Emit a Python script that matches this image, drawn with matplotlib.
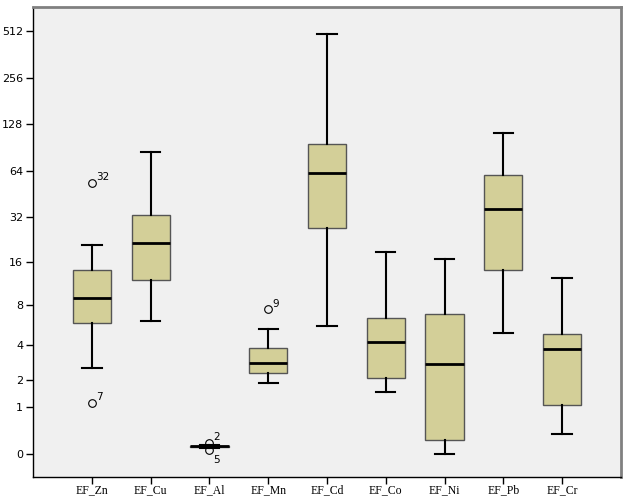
import numpy as np
import matplotlib
matplotlib.use('Agg')
import matplotlib.pyplot as plt

# box statistics (enrichment factors)
labels = ['EF_Zn', 'EF_Cu', 'EF_Al', 'EF_Mn', 'EF_Cd', 'EF_Co', 'EF_Ni', 'EF_Pb', 'EF_Cr']
whislo = [2.55, 6.14, 0.10, 1.85, 5.63, 1.51, 0.0, 4.98, 0.34]
q1     = [5.90, 11.96, 0.115, 2.32, 26.9, 2.05, 0.23, 14.0, 1.05]
med    = [9.03, 21.56, 0.12, 2.81, 62.3, 4.19, 2.77, 36.1, 3.68]
q3     = [14.0, 33.1, 0.13, 3.75, 95.7, 6.46, 6.88, 60.5, 4.84]
whishi = [20.8, 84.6, 0.14, 5.29, 489.0, 18.75, 16.8, 112.2, 12.4]

# outliers: (box index, value, case label)
outliers = [(0, 53.2, '32'), (0, 1.13, '7'), (2, 0.18, '2'), (2, 0.06, '5'), (3, 7.45, '9')]

yticks = [0, 1, 2, 4, 8, 16, 32, 64, 128, 256, 512]

stats = []
for i in range(len(labels)):
    fl = [v for j, v, t in outliers if j == i]
    stats.append(dict(whislo=whislo[i], q1=q1[i], med=med[i], q3=q3[i],
                      whishi=whishi[i], fliers=fl, label=labels[i]))

fig = plt.figure(figsize=(6.29, 5.04), dpi=100)
ax = fig.add_axes([33/629, 27/504, (621-33)/629, (477-7)/504])
ax.set_facecolor('#f0f0f0')

ax.bxp(stats, positions=range(len(labels)), widths=0.65, patch_artist=True,
       boxprops=dict(facecolor='#d3cf98', edgecolor='#555555', linewidth=1.0),
       medianprops=dict(color='black', linewidth=2.0),
       whiskerprops=dict(color='black', linewidth=1.5),
       capprops=dict(color='black', linewidth=1.5),
       capwidths=0.33,
       flierprops=dict(marker='o', markerfacecolor='none', markeredgecolor='black',
                       markersize=5.5, markeredgewidth=0.8))

ax.set_yscale('function', functions=(lambda x: np.log2(np.maximum(x, -0.99) + 1),
                                     lambda y: 2.0**y - 1))
ax.set_ylim(-0.287, 728)
ax.set_xlim(-1.004, 9.004)
ax.set_yticks(yticks)
ax.set_yticklabels([str(t) for t in yticks], fontsize=8, family='DejaVu Sans')
ax.yaxis.set_minor_locator(matplotlib.ticker.NullLocator())
ax.set_xticks(range(len(labels)))
ax.set_xticklabels(labels, fontsize=8.5, family='Liberation Serif')
ax.tick_params(axis='both', length=5, width=1, color='black', pad=2)
ax.tick_params(axis='x', pad=0.5)

for j, v, t in outliers:
    if t == '5':
        ax.annotate(t, (j, v), xytext=(3, -9), textcoords='offset points', fontsize=7.5)
    else:
        ax.annotate(t, (j, v), xytext=(3, 2), textcoords='offset points', fontsize=7.5)

for s in ['top', 'right']:
    ax.spines[s].set_color('#808080')
    ax.spines[s].set_linewidth(2)
for s in ['left', 'bottom']:
    ax.spines[s].set_color('black')
    ax.spines[s].set_linewidth(1)

fig.savefig('out.png', dpi=100)
